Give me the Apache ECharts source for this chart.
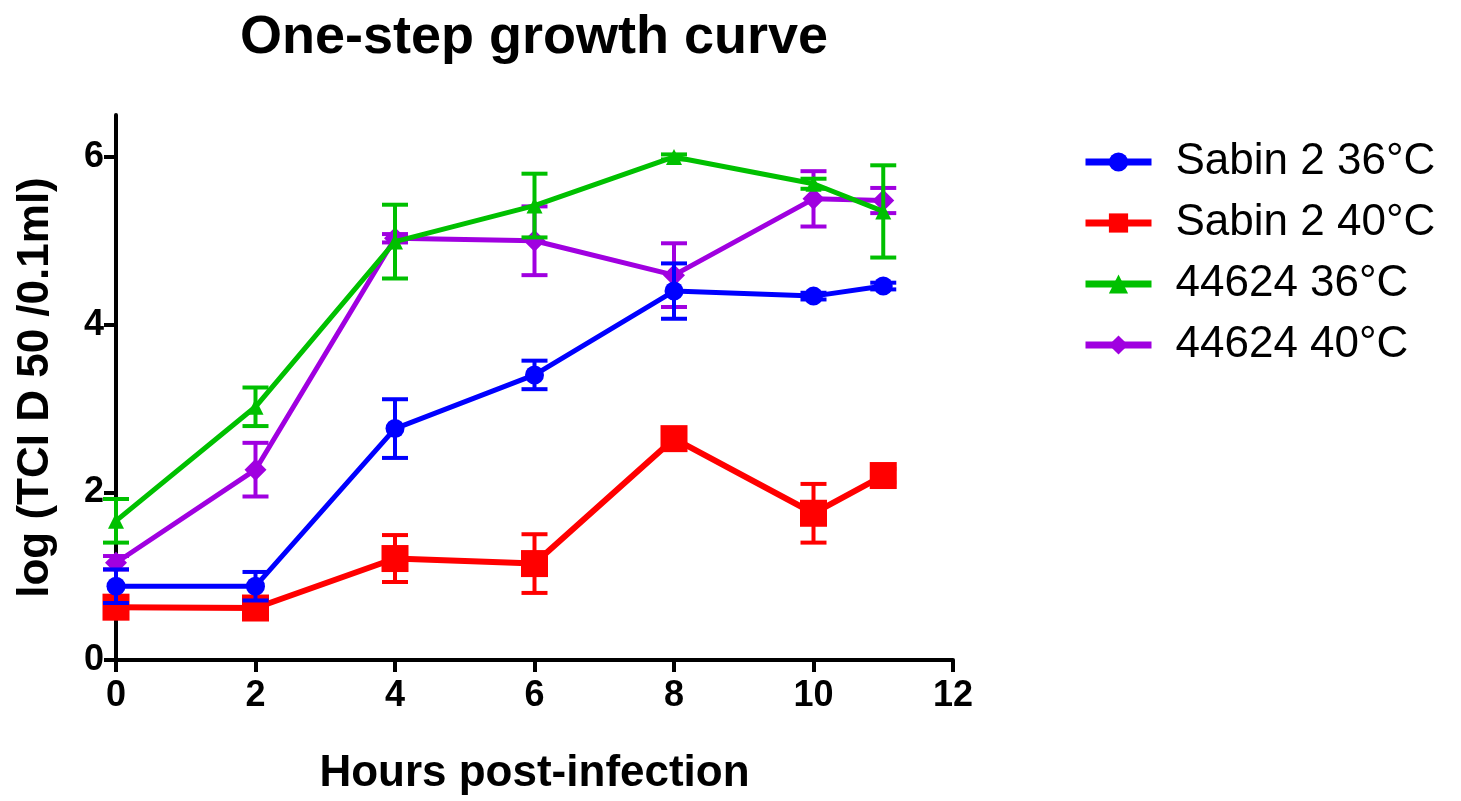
<!DOCTYPE html>
<html>
<head>
<meta charset="utf-8">
<script src="https://cdn.jsdelivr.net/npm/echarts@6/dist/echarts.min.js"></script>
<style>html,body{margin:0;padding:0;background:#fff;}#chart{width:1461px;height:801px;}</style>
</head>
<body>
<div id="chart"></div>
<script>
// ---- data ----
const hours = [0, 2, 4, 6, 8, 10, 11];
const seriesNames = ['Sabin 2 36°C', 'Sabin 2 40°C', '44624 36°C', '44624 40°C'];
const sabin36 = [0.88, 0.88, 2.76, 3.40, 4.40, 4.34, 4.46];
const sabin36Err = [0.20, 0.17, 0.35, 0.17, 0.33, 0.04, 0.04];
const sabin40 = [0.63, 0.62, 1.21, 1.15, 2.64, 1.75, 2.20];
const sabin40Err = [0.10, 0.08, 0.28, 0.35, 0.12, 0.35, 0.08];
const v44624_36 = [1.66, 3.02, 4.99, 5.42, 6.00, 5.68, 5.35];
const v44624_36Err = [0.26, 0.23, 0.44, 0.38, 0.03, 0.06, 0.55];
const v44624_40 = [1.16, 2.27, 5.03, 5.00, 4.59, 5.50, 5.48];
const v44624_40Err = [0.08, 0.32, 0.05, 0.41, 0.38, 0.33, 0.15];
const xTicks = [0, 2, 4, 6, 8, 10, 12];
const yTicks = [0, 2, 4, 6];

const colors = ['#0000FF', '#FF0000', '#00C000', '#A000E0'];
const symbols = ['circle', 'rect', 'triangle', 'diamond'];
const symbolSizes = [19, 27, 16, 22];
const lineWidths = [5, 6, 5, 5];
const values = [sabin36, sabin40, v44624_36, v44624_40];
const errs = [sabin36Err, sabin40Err, v44624_36Err, v44624_40Err];
const drawOrder = [3, 1, 0, 2];

const series = [];
drawOrder.forEach(function (i, k) {
  series.push({
    type: 'custom',
    name: seriesNames[i] + ' err',
    z: 2 + k,
    silent: true,
    data: hours.map(function (h, j) { return [h, values[i][j], errs[i][j]]; }),
    renderItem: function (params, api) {
      const x = api.value(0), y = api.value(1), e = api.value(2);
      const top = api.coord([x, y + e]);
      const bot = api.coord([x, y - e]);
      const hw = 13;
      const st = { stroke: colors[i], lineWidth: 4 };
      return {
        type: 'group',
        children: [
          { type: 'line', shape: { x1: top[0], y1: top[1], x2: bot[0], y2: bot[1] }, style: st },
          { type: 'line', shape: { x1: top[0] - hw, y1: top[1], x2: top[0] + hw, y2: top[1] }, style: st },
          { type: 'line', shape: { x1: bot[0] - hw, y1: bot[1], x2: bot[0] + hw, y2: bot[1] }, style: st }
        ]
      };
    }
  });
  series.push({
    type: 'line',
    name: seriesNames[i],
    z: 2 + k,
    data: hours.map(function (h, j) { return [h, values[i][j]]; }),
    symbol: symbols[i],
    symbolSize: symbolSizes[i],
    showAllSymbol: true,
    lineStyle: { color: colors[i], width: lineWidths[i] },
    itemStyle: { color: colors[i] }
  });
});

const chart = echarts.init(document.getElementById('chart'));
chart.setOption({
  animation: false,
  backgroundColor: '#ffffff',
  title: {
    text: 'One-step growth curve',
    left: 235,
    top: 6,
    textStyle: { fontFamily: 'Liberation Sans, Arial', fontWeight: 'bold', fontSize: 54, color: '#000' }
  },
  legend: {
    data: seriesNames,
    orient: 'vertical',
    left: 1077,
    top: 135,
    itemWidth: 66,
    itemHeight: 24,
    itemGap: 17,
    lineStyle: { width: 7 },
    textStyle: { fontFamily: 'Liberation Sans, Arial', fontSize: 44, color: '#000', lineHeight: 44, padding: [0, 0, 0, 19] }
  },
  grid: { left: 116, right: 508, top: 115, bottom: 136, containLabel: false },
  xAxis: {
    type: 'value',
    min: 0, max: 12, interval: 2,
    name: 'Hours post-infection',
    nameLocation: 'middle',
    nameGap: 92,
    nameTextStyle: { fontFamily: 'Liberation Sans, Arial', fontWeight: 'bold', fontSize: 44, color: '#000' },
    axisLine: { show: true, onZero: false, lineStyle: { color: '#000', width: 4 } },
    axisTick: { show: true, length: 12, lineStyle: { color: '#000', width: 4 }, customValues: xTicks },
    axisLabel: { margin: 18, fontFamily: 'Liberation Sans, Arial', fontWeight: 'bold', fontSize: 36, color: '#000', customValues: xTicks },
    splitLine: { show: false }
  },
  yAxis: {
    type: 'value',
    min: 0, max: 6.5,
    name: 'log (TCI D 50 /0.1ml)',
    nameLocation: 'middle',
    nameGap: 58,
    nameRotate: 90,
    nameTextStyle: { fontFamily: 'Liberation Sans, Arial', fontWeight: 'bold', fontSize: 44, color: '#000' },
    axisLine: { show: true, onZero: false, lineStyle: { color: '#000', width: 4 } },
    axisTick: { show: true, length: 12, lineStyle: { color: '#000', width: 4 }, customValues: yTicks },
    axisLabel: { margin: 12, fontFamily: 'Liberation Sans, Arial', fontWeight: 'bold', fontSize: 36, color: '#000', customValues: yTicks },
    splitLine: { show: false }
  },
  series: series
});
</script>
</body>
</html>
